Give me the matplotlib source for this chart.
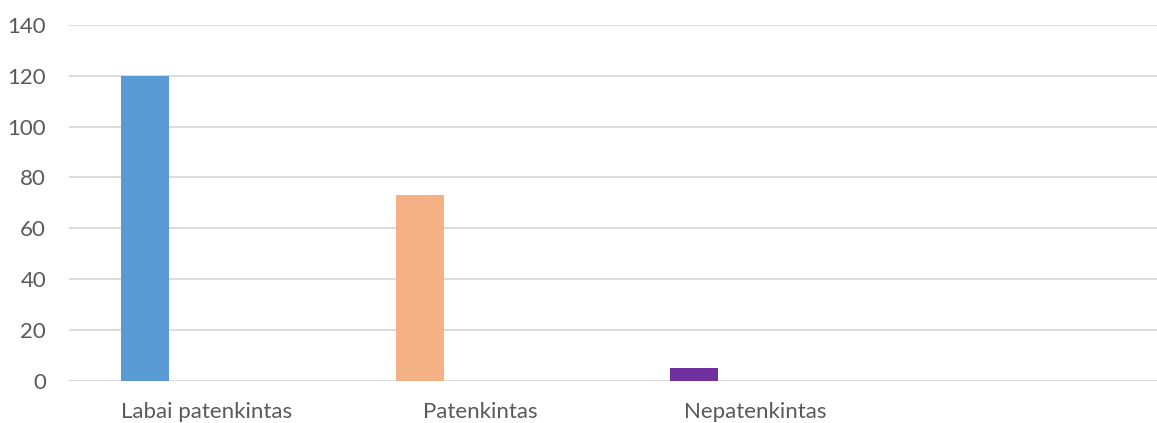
import matplotlib.pyplot as plt
import numpy as np

categories = ['Labai patenkintas', 'Patenkintas', 'Nepatenkintas', '']
values = [120, 73, 5, 0]
colors = ['#5B9BD5', '#F4B183', '#7030A0', '#FFFFFF']
yticks = [0, 20, 40, 60, 80, 100, 120, 140]

plt.rcParams['font.family'] = ['Lato', 'DejaVu Sans']

fig = plt.figure(figsize=(11.57, 4.23), dpi=100)
# axis runs off the right edge like the cropped original
ax = fig.add_axes([69 / 1157, 42.3 / 423, (1157 - 69) / 1157, 355.7 / 423])

x = np.arange(len(categories))
offset = -0.222
width = 0.175
ax.bar(x[:3] + offset, values[:3], width=width, color=colors[:3], zorder=3)

ax.set_xlim(-0.5, (1157 - 69) / 274.5 - 0.5)
ax.set_ylim(0, 140)
ax.set_yticks(yticks)
ax.set_xticks(x)
ax.set_xticklabels(categories)

ax.grid(axis='y', color='#D9D9D9', linewidth=1.3, zorder=0)
for s in ax.spines.values():
    s.set_visible(False)
ax.tick_params(axis='both', length=0, labelsize=16, colors='#595959')
ax.tick_params(axis='y', pad=16.5)
ax.tick_params(axis='x', pad=15)

fig.savefig('out.png', dpi=100)
